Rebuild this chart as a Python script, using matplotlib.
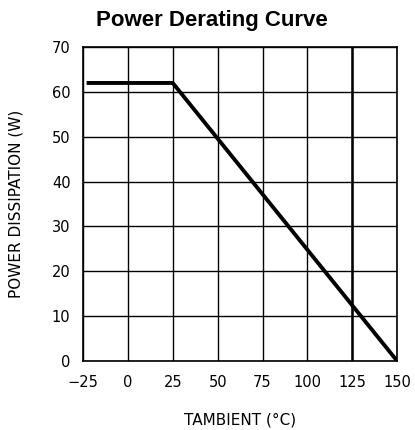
import matplotlib.pyplot as plt
import numpy as np

temp_c = [-23, 25, 150]
power_w = [62, 62, 0]
x_ticks = [-25, 0, 25, 50, 75, 100, 125, 150]
y_ticks = [0, 10, 20, 30, 40, 50, 60, 70]

fig = plt.figure(figsize=(4.15, 4.3), dpi=100)
ax = fig.add_axes([0.2, 0.1605, 0.757, 0.730])

ax.plot(temp_c, power_w, color="black", linewidth=2.8, solid_capstyle="butt")

ax.set_xlim(-25, 150)
ax.set_ylim(0, 70)
ax.set_xticks(x_ticks)
ax.set_yticks(y_ticks)
ax.set_xticklabels([str(t).replace("-", "\u2212") for t in x_ticks])
ax.grid(True, color="black", linewidth=1.0)
ax.axvline(125, color="black", linewidth=1.8)
ax.tick_params(length=0, labelsize=10.5)
ax.tick_params(axis="x", pad=10)
ax.tick_params(axis="y", pad=9)
for s in ax.spines.values():
    s.set_linewidth(1.2)

ax.set_xlabel("TAMBIENT (°C)", fontsize=11, labelpad=16)
ax.set_ylabel("POWER DISSIPATION (W)", fontsize=11, labelpad=20)
fig.text(0.511, 0.953, "Power Derating Curve", ha="center", va="center",
         fontsize=16, fontweight="bold", family="Liberation Sans")

fig.savefig("out.png", dpi=100)
